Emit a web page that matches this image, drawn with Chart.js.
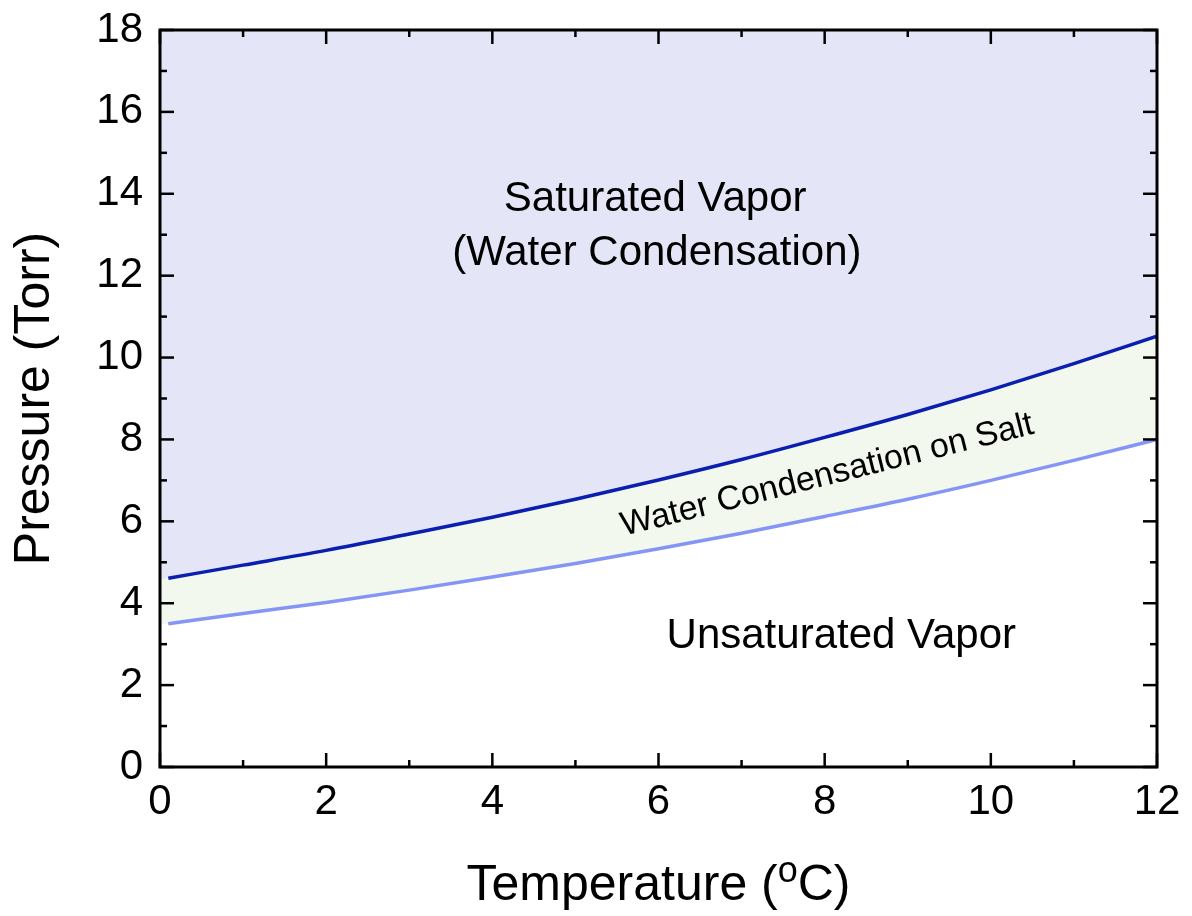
<!DOCTYPE html>
<html>
<head>
<meta charset="utf-8">
<script src="https://cdn.jsdelivr.net/npm/chart.js@4"></script>
<style>
  html, body { margin: 0; padding: 0; background: #fff; }
  #wrap { width: 1192px; height: 916px; }
</style>
</head>
<body>
<div id="wrap"><canvas id="vaporChart"></canvas></div>
<script>
const temps = [0.1, 1, 2, 3, 4, 5, 6, 7, 8, 9, 10, 11, 12];
const saturatedP = [4.61, 4.93, 5.29, 5.69, 6.10, 6.54, 7.01, 7.51, 8.05, 8.61, 9.21, 9.85, 10.52];
const saltP = [3.50, 3.75, 4.02, 4.32, 4.64, 4.97, 5.33, 5.71, 6.12, 6.54, 7.00, 7.49, 8.00];
// shaded areas reach the axis at 0 degC, the curves themselves stop just short of it
const edgeTemp = 0;
const edgeSaturatedP = 4.58;
const edgeSaltP = 3.48;

const FONT = 'Arial, "Liberation Sans", sans-serif';

const pts = (xs, ys) => xs.map((t, i) => ({ x: t, y: ys[i] }));
const satLine = pts(temps, saturatedP);
const saltLine = pts(temps, saltP);
const satFill = [{ x: edgeTemp, y: edgeSaturatedP }, ...satLine.slice(1)];
const saltFill = [{ x: edgeTemp, y: edgeSaltP }, ...saltLine.slice(1)];

const frameAndText = {
  id: 'frameAndText',
  afterDatasetsDraw(chart) {
    const { ctx, chartArea: a, scales: { x, y } } = chart;
    const line = (x1, y1, x2, y2) => {
      ctx.beginPath();
      ctx.moveTo(x1, y1);
      ctx.lineTo(x2, y2);
      ctx.stroke();
    };
    ctx.save();

    // region labels
    ctx.fillStyle = '#000';
    ctx.textAlign = 'center';
    ctx.textBaseline = 'middle';
    ctx.font = '42px ' + FONT;
    ctx.fillText('Saturated Vapor', x.getPixelForValue(5.96), y.getPixelForValue(13.85));
    ctx.fillText('(Water Condensation)', x.getPixelForValue(5.98), y.getPixelForValue(12.55));
    ctx.fillText('Unsaturated Vapor', x.getPixelForValue(8.2), y.getPixelForValue(3.18));

    ctx.save();
    ctx.translate(x.getPixelForValue(8.03), y.getPixelForValue(7.12));
    ctx.rotate(-14 * Math.PI / 180);
    ctx.font = '34px ' + FONT;
    ctx.fillText('Water Condensation on Salt', 0, 0);
    ctx.restore();

    // inward ticks on all four sides
    ctx.strokeStyle = '#000';
    ctx.lineWidth = 2.5;
    for (let v = x.min; v <= x.max; v++) {
      const px = x.getPixelForValue(v);
      const len = v % 2 === 0 ? 14 : 7;
      line(px, a.bottom, px, a.bottom - len);
      line(px, a.top, px, a.top + len);
    }
    for (let v = y.min; v <= y.max; v++) {
      const py = y.getPixelForValue(v);
      const len = v % 2 === 0 ? 14 : 7;
      line(a.left, py, a.left + len, py);
      line(a.right, py, a.right - len, py);
    }

    // frame
    ctx.lineWidth = 3;
    ctx.strokeRect(a.left, a.top, a.right - a.left, a.bottom - a.top);

    // x title with superscript o
    const parts = [
      { s: 'Temperature (', font: '50px ' + FONT, dy: 0 },
      { s: 'o', font: '36px ' + FONT, dy: -18 },
      { s: 'C)', font: '50px ' + FONT, dy: 0 }
    ];
    let total = 0;
    parts.forEach(p => { ctx.font = p.font; p.w = ctx.measureText(p.s).width; total += p.w; });
    let cx = (a.left + a.right) / 2 - total / 2;
    ctx.textAlign = 'left';
    ctx.textBaseline = 'alphabetic';
    parts.forEach(p => {
      ctx.font = p.font;
      ctx.fillText(p.s, cx, 900 + p.dy);
      cx += p.w;
    });

    ctx.restore();
  }
};

new Chart(document.getElementById('vaporChart'), {
  type: 'scatter',
  data: {
    datasets: [
      {
        label: 'saturated area',
        data: satFill,
        showLine: true,
        borderWidth: 0,
        pointRadius: 0,
        cubicInterpolationMode: 'monotone',
        fill: 'end',
        backgroundColor: '#e4e5f6',
        order: 3
      },
      {
        label: 'salt band',
        data: saltFill,
        showLine: true,
        borderWidth: 0,
        pointRadius: 0,
        cubicInterpolationMode: 'monotone',
        fill: 0,
        backgroundColor: '#f3f8ee',
        order: 3
      },
      {
        label: 'Saturation pressure',
        data: satLine,
        showLine: true,
        borderColor: '#0a1eb0',
        borderWidth: 3.5,
        pointRadius: 0,
        cubicInterpolationMode: 'monotone',
        fill: false,
        order: 1
      },
      {
        label: 'Over salt',
        data: saltLine,
        showLine: true,
        borderColor: '#8595f5',
        borderWidth: 3.5,
        pointRadius: 0,
        cubicInterpolationMode: 'monotone',
        fill: false,
        order: 1
      }
    ]
  },
  options: {
    responsive: true,
    maintainAspectRatio: false,
    animation: false,
    layout: { padding: { top: 30, right: 35, left: 0, bottom: 0 } },
    scales: {
      x: {
        type: 'linear',
        min: 0,
        max: 12,
        afterFit: (s) => { s.height = 149; s.paddingLeft = 0; s.paddingRight = 0; },
        ticks: {
          stepSize: 2,
          color: '#000',
          padding: 10,
          maxRotation: 0,
          font: { size: 42, family: FONT }
        },
        grid: { display: false, drawTicks: false },
        border: { display: false }
      },
      y: {
        min: 0,
        max: 18,
        afterFit: (s) => { s.width = 160; s.paddingTop = 0; s.paddingBottom = 0; },
        ticks: {
          stepSize: 2,
          color: '#000',
          padding: 17,
          font: { size: 42, family: FONT }
        },
        grid: { display: false, drawTicks: false },
        border: { display: false },
        title: {
          display: true,
          text: 'Pressure (Torr)',
          color: '#000',
          padding: { top: 5 },
          font: { size: 50, family: FONT }
        }
      }
    },
    plugins: {
      legend: { display: false },
      tooltip: { enabled: false }
    }
  },
  plugins: [frameAndText]
});
</script>
</body>
</html>
